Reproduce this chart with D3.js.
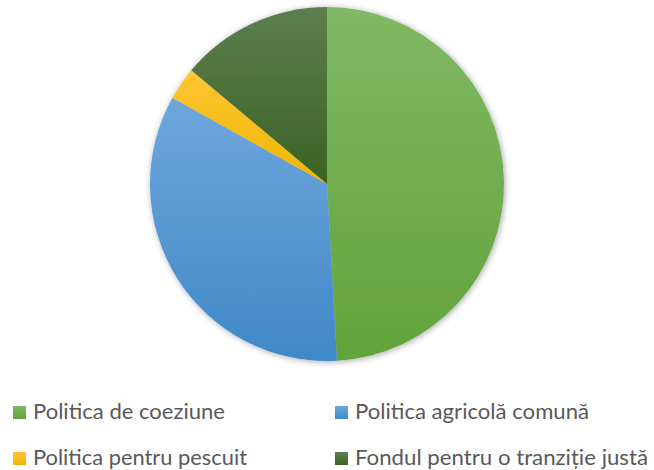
<!DOCTYPE html>
<html><head><meta charset="utf-8">
<script src="https://cdn.jsdelivr.net/npm/d3@7"></script>
<style>html,body{margin:0;padding:0;background:#fff;}svg{display:block;}</style>
</head><body>
<script>
const categories = ["Politica de coeziune","Politica agricolă comună","Politica pentru pescuit","Fondul pentru o tranziție justă"];
const values = [49.1, 34.0, 3.0, 13.9];
const colorsTop = ["#80b864","#6fa7dc","#ffc534","#5d7e51"];
const colorsBottom = ["#62a43a","#4088c8","#f0b600","#3b6322"];
const legendWidths = [192, 234, 214, 293];

const W=654,H=470, cx=327, cy=184, R=177;
const svg=d3.select("body").append("svg").attr("width",W).attr("height",H);
const defs=svg.append("defs");
const f=defs.append("filter").attr("id","sh").attr("x","-20%").attr("y","-20%").attr("width","140%").attr("height","140%");
f.append("feDropShadow").attr("dx",1).attr("dy",1).attr("stdDeviation",3).attr("flood-color","#000").attr("flood-opacity",0.35);
categories.forEach((c,i)=>{
  const g=defs.append("linearGradient").attr("id","g"+i).attr("x1",0).attr("y1",0).attr("x2",0).attr("y2",1);
  g.append("stop").attr("offset","0%").attr("stop-color",colorsTop[i]);
  g.append("stop").attr("offset","100%").attr("stop-color",colorsBottom[i]);
});
const pie=d3.pie().sort(null).value(d=>d)(values);
const arc=d3.arc().innerRadius(0).outerRadius(R);
const g=svg.append("g").attr("transform",`translate(${cx},${cy})`).attr("filter","url(#sh)");
g.selectAll("path").data(pie).join("path").attr("d",arc).attr("fill",(d,i)=>`url(#g${i})`);

const x=d3.scaleOrdinal().domain([0,1]).range([13,335]);
const y=d3.scaleOrdinal().domain([0,1]).range([406,452]);
const lg=svg.append("g");
categories.forEach((c,i)=>{
  const col=i%2,row=Math.floor(i/2);
  lg.append("rect").attr("x",x(col)).attr("y",y(row)).attr("width",13).attr("height",13).attr("fill",`url(#g${i})`);
  lg.append("text").attr("x",x(col)+20).attr("y",y(row)+13)
    .attr("font-family","Lato, 'Open Sans', sans-serif").attr("font-size",21).attr("fill","#595959")
    .attr("textLength",legendWidths[i]).attr("lengthAdjust","spacingAndGlyphs").text(c);
});
</script>
</body></html>
